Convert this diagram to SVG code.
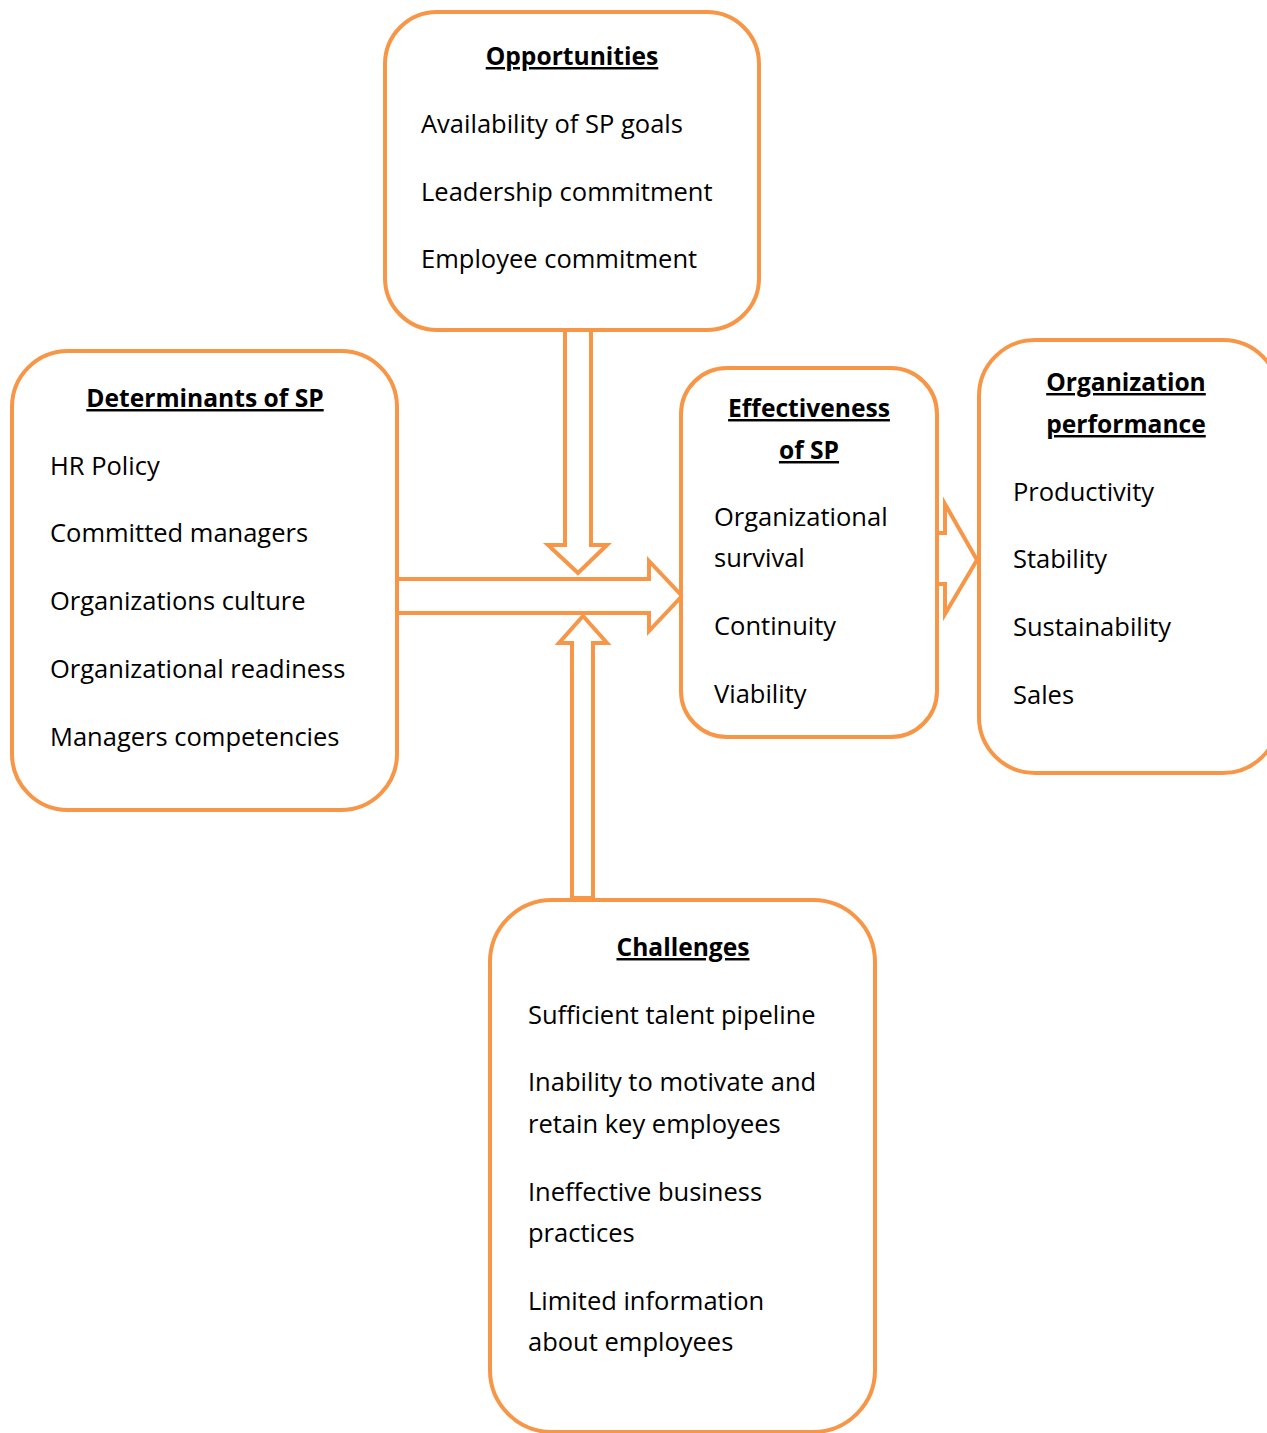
<svg xmlns="http://www.w3.org/2000/svg" width="1267" height="1433" viewBox="0 0 1267 1433">
<style>
.box{fill:#fff;stroke:#F79646;stroke-width:4}
.arr{fill:#fff;stroke:#F79646;stroke-width:4;stroke-linejoin:miter}
text{font-family:"Open Sans","Noto Sans",sans-serif;font-size:25.5px;fill:#000}
.t{font-size:24.6px;font-weight:bold;text-decoration:underline;text-anchor:middle}
</style>
<rect width="1267" height="1433" fill="#fff"/>
<g id="connectors">
<polygon class="arr" points="565,330 591,330 591,545 607,545 578,573 548,545 565,545"/>
<polygon class="arr" points="397,579 649,579 649,561 682,596 649,631 649,613 397,613"/>
<polygon class="arr" points="572,898 593,898 593,643 607,643 583,616 559,643 572,643"/>
<polygon class="arr" points="937,533 945,533 945,504 977,560 945,614 945,584 937,584"/>
</g>
<g id="opportunities">
<rect class="box" x="385" y="12" width="374" height="318" rx="52"/>
<text class="t" x="572" y="65">Opportunities</text>
<text x="421" y="133">Availability of SP goals</text>
<text x="421" y="201">Leadership commitment</text>
<text x="421" y="268">Employee commitment</text>
</g>
<g id="determinants">
<rect class="box" x="12" y="351" width="385" height="459" rx="56"/>
<text class="t" x="205" y="407">Determinants of SP</text>
<text x="50" y="475">HR Policy</text>
<text x="50" y="542">Committed managers</text>
<text x="50" y="610">Organizations culture</text>
<text x="50" y="678">Organizational readiness</text>
<text x="50" y="746">Managers competencies</text>
</g>
<g id="effectiveness">
<rect class="box" x="681" y="368" width="256" height="369" rx="46"/>
<text class="t" x="809" y="417">Effectiveness</text>
<text class="t" x="809" y="459">of SP</text>
<text x="714" y="526">Organizational</text>
<text x="714" y="567">survival</text>
<text x="714" y="635">Continuity</text>
<text x="714" y="703">Viability</text>
</g>
<g id="performance">
<rect class="box" x="979" y="340" width="300" height="433" rx="56"/>
<text class="t" x="1126" y="391">Organization</text>
<text class="t" x="1126" y="433">performance</text>
<text x="1013" y="501">Productivity</text>
<text x="1013" y="568">Stability</text>
<text x="1013" y="636">Sustainability</text>
<text x="1013" y="704">Sales</text>
</g>
<g id="challenges">
<rect class="box" x="490" y="900" width="385" height="532" rx="62"/>
<text class="t" x="683" y="956">Challenges</text>
<text x="528" y="1024">Sufficient talent pipeline</text>
<text x="528" y="1091">Inability to motivate and</text>
<text x="528" y="1133">retain key employees</text>
<text x="528" y="1201">Ineffective business</text>
<text x="528" y="1242">practices</text>
<text x="528" y="1310">Limited information</text>
<text x="528" y="1351">about employees</text>
</g>
</svg>
